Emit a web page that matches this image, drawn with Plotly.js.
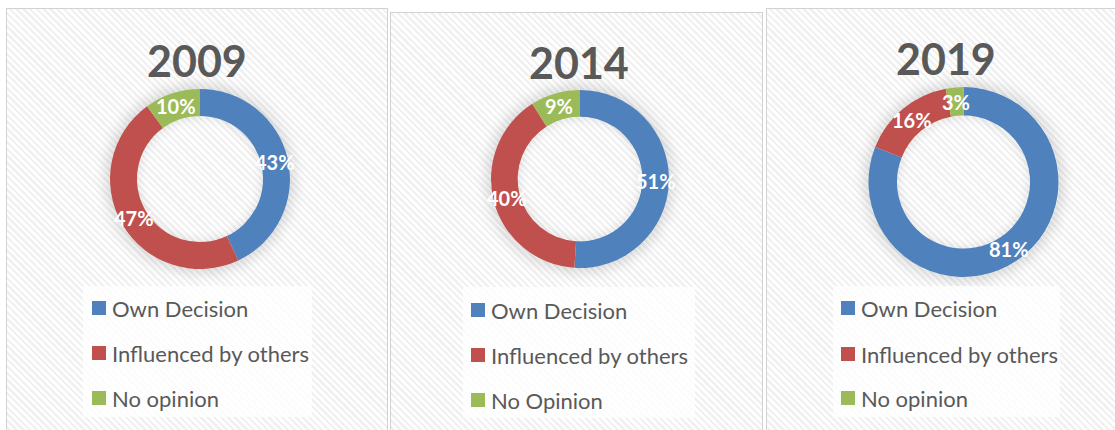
<!DOCTYPE html>
<html>
<head>
<meta charset="utf-8">
<script src="https://cdn.plot.ly/plotly-3.0.1.min.js"></script>
<style>
  html, body { margin: 0; padding: 0; background: #ffffff; }
  #wrap { position: relative; width: 1115px; height: 430px; overflow: hidden; background: #fff; }
  .panel { position: absolute; box-sizing: border-box; border: 1.5px solid #d2d2d2;
    background: repeating-linear-gradient(45deg, #ffffff 0px, #ffffff 2.4px, #f1f1f1 2.4px, #f1f1f1 4.8px); }
  .glow { position: absolute; border-radius: 50%; box-shadow: 0 0 14px 4px rgba(0,0,0,0.15); }
  .inglow { position: absolute; border-radius: 50%; box-shadow: inset 0 0 10px 2px rgba(0,0,0,0.09); }
  #chart { position: absolute; left: 0; top: 0; width: 1115px; height: 430px; }
</style>
</head>
<body>
<div id="wrap">
  <div id="bg"></div>
  <div id="chart"></div>
</div>
<script>
// ---- data ----
const years = ['2009', '2014', '2019'];
const labels2009 = ['Own Decision', 'Influenced by others', 'No opinion'];
const labels2014 = ['Own Decision', 'Influenced by others', 'No Opinion'];
const labels2019 = ['Own Decision', 'Influenced by others', 'No opinion'];
const values2009 = [43, 47, 10];
const values2014 = [51, 40, 9];
const values2019 = [81, 16, 3];
const sliceColors = ['#4F81BD', '#C0504D', '#9BBB59'];

// ---- layout geometry (pixels) ----
const W = 1115, H = 430;
const panels = [
  {x0: 6, y0: 8, x1: 388, y1: 440},
  {x0: 390, y0: 12, x1: 763, y1: 440},
  {x0: 766, y0: 8, x1: 1125, y1: 440}
];
const donuts = [
  {cx: 200, cy: 179, r: 90},
  {cx: 580, cy: 179, r: 89},
  {cx: 963.5, cy: 182, r: 95}
];
const titlePos = [{x: 197, y: 60}, {x: 579, y: 63}, {x: 946, y: 58}];
const legendBox = [
  {x0: 83, y0: 286, x1: 312, y1: 417, sq: 92, rows: [308, 353, 398]},
  {x0: 463, y0: 287, x1: 695, y1: 418, sq: 471, rows: [310, 355, 400]},
  {x0: 833, y0: 286, x1: 1060, y1: 417, sq: 841, rows: [308, 354, 398]}
];
const HOLE = 0.70;

// background panels + glow (HTML behind the plot)
const bg = document.getElementById('bg');
panels.forEach(p => {
  const d = document.createElement('div');
  d.className = 'panel';
  d.style.left = p.x0 + 'px'; d.style.top = p.y0 + 'px';
  d.style.width = (p.x1 - p.x0) + 'px'; d.style.height = (p.y1 - p.y0) + 'px';
  bg.appendChild(d);
});
donuts.forEach(dn => {
  const g = document.createElement('div');
  g.className = 'glow';
  g.style.left = (dn.cx - dn.r) + 'px'; g.style.top = (dn.cy - dn.r) + 'px';
  g.style.width = (2 * dn.r) + 'px'; g.style.height = (2 * dn.r) + 'px';
  bg.appendChild(g);
  const ri = dn.r * HOLE;
  const h = document.createElement('div');
  h.className = 'inglow';
  h.style.left = (dn.cx - ri) + 'px'; h.style.top = (dn.cy - ri) + 'px';
  h.style.width = (2 * ri) + 'px'; h.style.height = (2 * ri) + 'px';
  bg.appendChild(h);
});

const allLabels = [labels2009, labels2014, labels2019];
const allValues = [values2009, values2014, values2019];

const FONT = 'Lato, Carlito, Calibri, "Open Sans", sans-serif';

const traces = allValues.map((vals, i) => {
  const dn = donuts[i];
  return {
    type: 'pie',
    labels: allLabels[i],
    values: vals,
    hole: HOLE,
    sort: false,
    direction: 'clockwise',
    rotation: 0,
    showlegend: false,
    marker: {colors: sliceColors, line: {width: 0}},
    textinfo: 'none',
    hoverinfo: 'label+percent',
    domain: {
      x: [(dn.cx - dn.r) / W, (dn.cx + dn.r) / W],
      y: [(H - (dn.cy + dn.r)) / H, (H - (dn.cy - dn.r)) / H]
    }
  };
});

const shapes = [];
const annotations = [];
years.forEach((yr, i) => {
  annotations.push({
    text: '<b>' + yr + '</b>', showarrow: false,
    xref: 'paper', yref: 'paper', x: titlePos[i].x / W, y: 1 - titlePos[i].y / H,
    xanchor: 'center', yanchor: 'middle',
    font: {family: FONT, size: 43, color: '#595959'}
  });
  // data labels: placed at the middle of each slice (mid-angle, mid-ring), derived from the values
  const vals = allValues[i];
  const total = vals.reduce((a, b) => a + b, 0);
  const dn = donuts[i];
  const rMid = dn.r * (1 + HOLE) / 2;
  let cum = 0;
  vals.forEach((v, k) => {
    const ang = 2 * Math.PI * (cum + v / 2) / total;
    cum += v;
    const px = dn.cx + rMid * Math.sin(ang);
    const py = dn.cy - rMid * Math.cos(ang);
    annotations.push({
      text: '<b>' + Math.round(100 * v / total) + '%</b>', showarrow: false,
      xref: 'paper', yref: 'paper', x: px / W, y: 1 - py / H,
      xanchor: 'center', yanchor: 'middle',
      font: {family: FONT, size: 20, color: '#ffffff'}
    });
  });
  const lb = legendBox[i];
  shapes.push({
    type: 'rect', xref: 'paper', yref: 'paper', layer: 'below',
    x0: lb.x0 / W, x1: lb.x1 / W, y0: 1 - lb.y1 / H, y1: 1 - lb.y0 / H,
    fillcolor: 'rgba(255,255,255,0.75)', line: {width: 0}
  });
  allLabels[i].forEach((lab, k) => {
    const yc = lb.rows[k];
    shapes.push({
      type: 'rect', xref: 'paper', yref: 'paper',
      x0: lb.sq / W, x1: (lb.sq + 14) / W, y0: 1 - (yc + 7) / H, y1: 1 - (yc - 7) / H,
      fillcolor: sliceColors[k], line: {width: 0}
    });
    annotations.push({
      text: lab, showarrow: false,
      xref: 'paper', yref: 'paper', x: (lb.sq + 18) / W, y: 1 - yc / H,
      xanchor: 'left', yanchor: 'middle',
      font: {family: FONT, size: 22, color: '#595959'}
    });
  });
});

const layout = {
  width: W, height: H,
  margin: {l: 0, r: 0, t: 0, b: 0},
  paper_bgcolor: 'rgba(0,0,0,0)',
  plot_bgcolor: 'rgba(0,0,0,0)',
  showlegend: false,
  shapes: shapes,
  annotations: annotations
};

Plotly.newPlot('chart', traces, layout, {displayModeBar: false, staticPlot: true});
</script>
</body>
</html>
